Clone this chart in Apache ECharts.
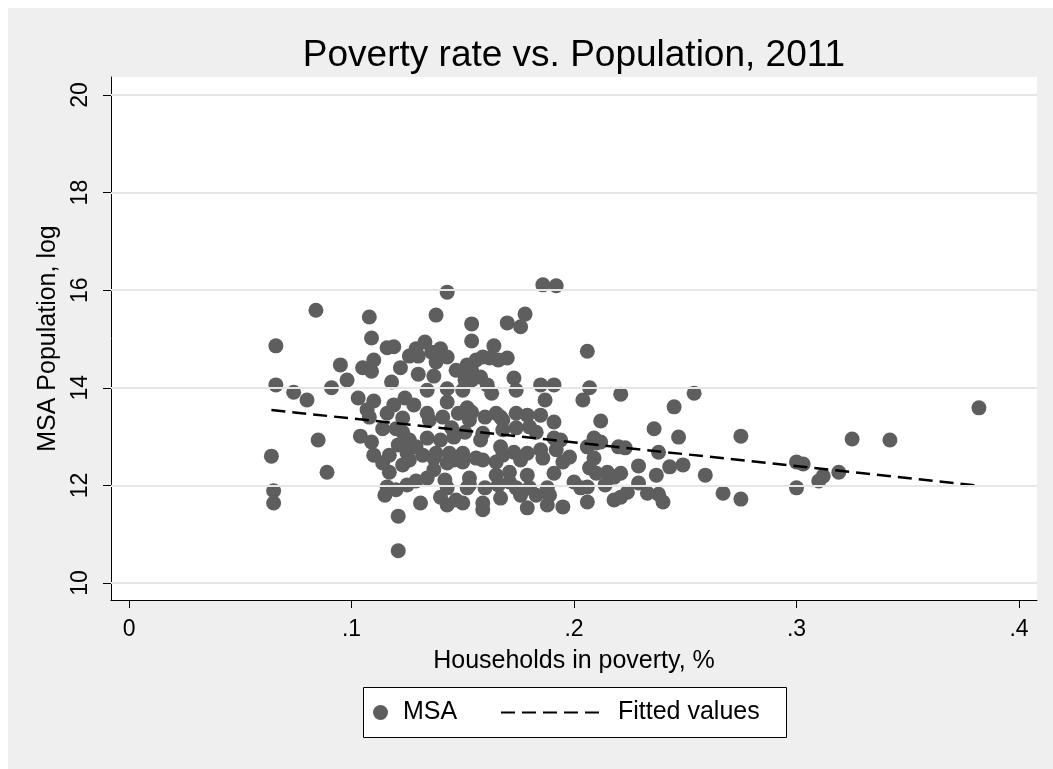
<!DOCTYPE html>
<html>
<head>
<meta charset="utf-8">
<title>Poverty rate vs. Population, 2011</title>
<script src="https://cdn.jsdelivr.net/npm/echarts@6/dist/echarts.min.js"></script>
<style>
  html, body { margin: 0; padding: 0; background: #fff; }
  #chart { width: 1053px; height: 769px; }
</style>
</head>
<body>
<div id="chart"></div>
<script>
// share of households in poverty (x) and log MSA population (y), one pair per MSA
const povertyRate = [
  .064, .065, .065, .066, .066, .074, .080, .084, .085, .089,
  .091, .095, .098, .105, .109, .110, .108, .109, .116, .119,
  .138, .143, .133, .129, .126, .130, .136, .140, .138, .143,
  .122, .130, .137, .147, .118, .134, .143, .103, .110, .107,
  .119, .116, .124, .128, .123, .143, .134, .135, .141, .108,
  .114, .104, .120, .123, .109, .121, .126, .129, .134, .140,
  .145, .146, .151, .148, .152, .151, .110, .117, .125, .132,
  .138, .144, .150, .114, .117, .123, .126, .137, .146, .150,
  .143, .137, .116, .115, .120, .125, .129, .134, .142, .143,
  .140, .143, .147, .150, .131, .121, .121, .153,
  .186, .192, .178, .170, .176, .154, .154, .164, .206, .152,
  .156, .159, .162, .166, .170, .154, .158, .173, .174, .185,
  .191, .187, .207, .204, .221, .212, .150, .154, .161, .163,
  .154, .153, .160, .165, .168, .174, .179, .185, .191, .180,
  .183, .174, .168, .159, .158, .191, .194, .206, .210, .156,
  .167, .168, .173, .179, .185, .192, .198, .159, .165, .176,
  .186, .195, .153, .152, .160, .159, .159, .165, .166, .167,
  .171, .174, .176, .179, .180, .183, .188, .189, .191, .179,
  .188, .195, .200, .203, .206, .206, .207, .210, .171, .220,
  .209, .215, .218, .214, .218, .167, .209, .151,
  .254, .245, .236, .247, .275, .212, .223, .238, .300, .303,
  .229, .243, .249, .237, .259, .221, .229, .300, .233, .267,
  .275, .224, .221, .238, .240, .382, .325, .342, .319, .312,
  .310
];
const logPopulation = [
  12.60, 11.89, 11.64, 14.86, 14.06, 13.91, 13.75, 15.59, 12.93, 12.27,
  14.00, 14.47, 14.16, 14.41, 14.34, 14.57, 15.45, 15.02, 14.82, 14.84,
  15.49, 15.96, 14.94, 14.80, 14.65, 14.65, 14.73, 14.80, 14.53, 14.63,
  14.41, 14.28, 14.24, 14.36, 14.12, 13.95, 13.98, 13.79, 13.73, 13.55,
  13.65, 13.48, 13.79, 13.65, 13.38, 13.71, 13.48, 13.34, 13.40, 13.40,
  13.16, 13.01, 13.16, 13.09, 12.89, 12.83, 12.93, 12.79, 12.97, 12.93,
  13.18, 12.99, 13.09, 13.48, 13.59, 14.16, 12.62, 12.62, 12.66, 12.62,
  12.66, 12.66, 12.66, 12.46, 12.27, 12.42, 12.52, 12.56, 12.52, 12.48,
  12.46, 12.32, 11.97, 11.80, 11.91, 12.01, 12.09, 12.15, 12.11, 11.95,
  11.76, 11.60, 11.70, 11.64, 11.64, 11.37, 10.66, 12.01,
  16.11, 16.09, 15.51, 15.33, 15.25, 15.31, 14.96, 14.86, 14.75, 14.47,
  14.57, 14.63, 14.61, 14.57, 14.61, 14.36, 14.22, 14.20, 13.95, 14.06,
  14.06, 13.75, 14.00, 13.75, 13.87, 13.32, 13.95, 14.16, 14.06, 13.89,
  13.50, 13.34, 13.40, 13.48, 13.34, 13.48, 13.44, 13.44, 13.30, 13.20,
  13.09, 13.18, 13.14, 13.07, 12.93, 12.97, 12.93, 12.79, 12.87, 12.56,
  12.79, 12.62, 12.68, 12.66, 12.73, 12.73, 12.58, 12.52, 12.48, 12.52,
  12.56, 12.48, 12.15, 11.95, 11.95, 11.64, 11.50, 12.21, 12.01, 11.74,
  12.07, 11.95, 11.80, 12.21, 11.95, 11.80, 11.95, 11.80, 12.25, 11.54,
  11.60, 11.56, 12.07, 11.95, 11.97, 11.66, 12.36, 12.25, 12.27, 12.79,
  12.56, 12.27, 12.17, 12.01, 11.70, 13.40, 12.97, 14.26,
  13.89, 13.61, 13.16, 12.99, 13.01, 12.89, 12.77, 12.68, 12.48, 12.44,
  12.40, 12.38, 12.42, 12.21, 12.21, 12.25, 12.05, 11.95, 11.84, 11.84,
  11.72, 11.86, 11.76, 11.82, 11.66, 13.59, 12.95, 12.93, 12.27, 12.19,
  12.09
];
// fitted values at the two ends of the data
const fitPoverty = [0.064, 0.382];
const fitLogPop = [13.547, 11.995];

const xTicks = [0, 0.1, 0.2, 0.3, 0.4];
const yTicks = [10, 12, 14, 16, 18, 20];

const font = "'Liberation Sans', Arial, Helvetica, sans-serif";
const chart = echarts.init(document.getElementById('chart'));

const option = {
  animation: false,
  backgroundColor: '#ffffff',
  textStyle: { fontFamily: font, color: '#000' },
  graphic: [
    {
      type: 'rect', z: -100, silent: true,
      shape: { x: 8, y: 8, width: 1045, height: 761 },
      style: { fill: '#efefef' }
    },
    {
      // legend frame
      type: 'rect', z: 1, silent: true,
      shape: { x: 363.5, y: 687.5, width: 423, height: 50 },
      style: { fill: '#fff', stroke: '#000', lineWidth: 1 }
    }
  ],
  title: {
    text: 'Poverty rate vs. Population, 2011',
    left: 574,
    top: 37,
    textAlign: 'center',
    padding: 0,
    textStyle: { fontSize: 37, fontWeight: 'normal', color: '#000', fontFamily: font }
  },
  legend: [
    {
      data: ['MSA'],
      left: 373, top: 700, padding: 0,
      itemWidth: 15, itemHeight: 15,
      selectedMode: false,
      textStyle: { fontSize: 25, color: '#000', fontFamily: font, padding: [0, 0, 0, 10] }
    },
    {
      data: ['Fitted values'],
      left: 500, top: 700, padding: 0,
      itemWidth: 101, itemHeight: 14,
      selectedMode: false,
      itemStyle: { color: 'rgba(0,0,0,0)', borderWidth: 0 },
      textStyle: { fontSize: 25, color: '#000', fontFamily: font, padding: [0, 0, 0, 11] }
    }
  ],
  grid: {
    left: 111, right: 16, top: 77, bottom: 169,
    show: true, backgroundColor: '#fff', borderWidth: 0
  },
  xAxis: {
    type: 'value',
    min: -0.0081, max: 0.4081,
    name: 'Households in poverty, %',
    nameLocation: 'middle',
    nameGap: 49,
    nameTextStyle: { fontSize: 25, color: '#000', fontFamily: font },
    axisLine: { show: true, onZero: false, lineStyle: { color: '#000', width: 1 } },
    axisTick: { show: true, length: 8, customValues: xTicks, lineStyle: { color: '#000' } },
    axisLabel: {
      customValues: xTicks,
      fontSize: 23, color: '#000', fontFamily: font, margin: 18,
      formatter: v => (v === 0 ? '0' : String(v).replace(/^0/, ''))
    },
    splitLine: { show: false }
  },
  yAxis: {
    type: 'value',
    min: 9.652, max: 20.369,
    name: 'MSA Population, log',
    nameLocation: 'middle',
    nameGap: 47,
    nameRotate: 90,
    nameTextStyle: { fontSize: 25, color: '#000', fontFamily: font },
    axisLine: { show: true, onZero: false, lineStyle: { color: '#000', width: 1 } },
    axisTick: { show: true, length: 8, customValues: yTicks, lineStyle: { color: '#000' } },
    axisLabel: { customValues: yTicks, rotate: 90, fontSize: 23, color: '#000', fontFamily: font, margin: 19 },
    splitLine: { show: false }
  },
  series: [
    {
      // horizontal grid lines behind the points
      name: 'grid',
      type: 'line',
      data: [],
      silent: true,
      z: 1,
      markLine: {
        silent: true,
        symbol: 'none',
        label: { show: false },
        lineStyle: { color: '#e6e6e6', width: 2, type: 'solid' },
        data: yTicks.map(v => ({ yAxis: v }))
      }
    },
    {
      name: 'MSA',
      type: 'scatter',
      z: 2,
      symbolSize: 15,
      itemStyle: { color: '#5e5e5e', opacity: 1 },
      data: povertyRate.map((x, i) => [x, logPopulation[i]])
    },
    {
      name: 'Fitted values',
      type: 'line',
      z: 3,
      symbol: 'none',
      itemStyle: { color: 'rgba(0,0,0,0)', borderWidth: 0 },
      lineStyle: { color: '#000', width: 2.5, type: [14, 7] },
      data: fitPoverty.map((x, i) => [x, fitLogPop[i]])
    }
  ]
};

chart.setOption(option);
</script>
</body>
</html>
